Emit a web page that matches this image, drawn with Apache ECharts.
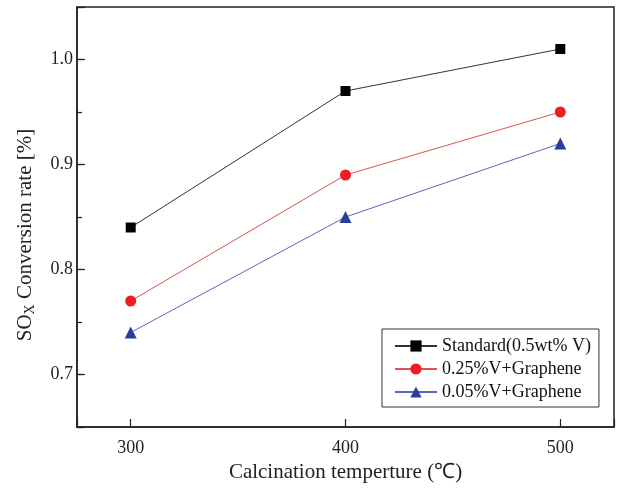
<!DOCTYPE html>
<html>
<head>
<meta charset="utf-8">
<script src="https://cdn.jsdelivr.net/npm/echarts@6/dist/echarts.min.js"></script>
<style>html,body{margin:0;padding:0;background:#fff}#c{width:617px;height:493px}</style>
</head>
<body>
<div id="c"></div>
<script>
const temperatures = [300, 400, 500];
const standardValues = [0.84, 0.97, 1.01];
const v025Values = [0.77, 0.89, 0.95];
const v005Values = [0.74, 0.85, 0.92];
const seriesNames = ['Standard(0.5wt% V)', '0.25%V+Graphene', '0.05%V+Graphene'];
const xTickLabels = ['300', '400', '500'];
const yTickLabels = ['0.7', '0.8', '0.9', '1.0'];

const FONT = '"Liberation Serif", "Times New Roman", serif';
const pair = (vals) => temperatures.map((t, i) => [t, vals[i]]);

const chart = echarts.init(document.getElementById('c'), null, {renderer: 'canvas'});
chart.setOption({
  animation: false,
  backgroundColor: '#fff',
  grid: {left: 77, right: 3, top: 7, bottom: 66, show: true, borderColor: '#222', borderWidth: 1.5, backgroundColor: 'transparent'},
  xAxis: {
    type: 'value', min: 275, max: 525, splitNumber: 3,
    axisLine: {show: true, lineStyle: {color: '#222', width: 1.5}},
    axisTick: {show: true, inside: true, length: 8, lineStyle: {color: '#222', width: 1.2}},
    splitLine: {show: false},
    axisLabel: {
      margin: 12, color: '#222', fontFamily: FONT, fontSize: 18,
      formatter: v => xTickLabels.includes(String(Math.round(v))) && Math.abs(v - Math.round(v)) < 1e-6 ? String(Math.round(v)) : ''
    },
    name: 'Calcination temperture (℃)', nameLocation: 'middle', nameGap: 33,
    nameTextStyle: {fontFamily: FONT, fontSize: 21, color: '#222'}
  },
  yAxis: [{
    type: 'value', min: 0.65, max: 1.05, interval: 0.05,
    axisLine: {show: true, lineStyle: {color: '#222', width: 1.5}},
    axisTick: {show: true, inside: true, length: 5, lineStyle: {color: '#222', width: 1.2}},
    splitLine: {show: false},
    axisLabel: {
      margin: 4, color: '#222', fontFamily: FONT, fontSize: 18,
      formatter: v => { const t = v.toFixed(1); return (Math.abs(v * 10 - Math.round(v * 10)) < 1e-6 && yTickLabels.includes(t)) ? t : ''; }
    },
    name: '{a|SO}{b|X}{a| Conversion rate [%]}', nameLocation: 'middle', nameGap: 40, nameRotate: 90,
    nameTextStyle: {
      padding: [0, 36, 0, 0],
      rich: {
        a: {fontFamily: FONT, fontSize: 21, color: '#222', lineHeight: 24},
        b: {fontFamily: FONT, fontSize: 14, color: '#222', verticalAlign: 'bottom', lineHeight: 22}
      }
    }
  }, {
    type: 'value', min: 0.65, max: 1.05, splitNumber: 4, position: 'left',
    axisLine: {show: false},
    axisTick: {show: true, inside: true, length: 8, lineStyle: {color: '#222', width: 1.2}},
    axisLabel: {show: false},
    splitLine: {show: false}
  }],
  legend: {
    orient: 'vertical', left: 382, top: 329,
    padding: [8, 8, 6, 12], itemGap: 5, itemWidth: 42, itemHeight: 14,
    borderColor: '#333', borderWidth: 1, backgroundColor: '#fff',
    textStyle: {fontFamily: FONT, fontSize: 18, color: '#111'},
    data: seriesNames
  },
  series: [
    {name: seriesNames[0], type: 'line', data: pair(standardValues), symbol: 'rect', symbolSize: 10,
     itemStyle: {color: '#000'}, lineStyle: {color: '#333', width: 1}},
    {name: seriesNames[1], type: 'line', data: pair(v025Values), symbol: 'circle', symbolSize: 11,
     itemStyle: {color: '#ee1c24'}, lineStyle: {color: '#d9534f', width: 1}},
    {name: seriesNames[2], type: 'line', data: pair(v005Values), symbol: 'triangle', symbolSize: 12,
     itemStyle: {color: '#2b3d9c'}, lineStyle: {color: '#5a66bb', width: 1}}
  ]
});
</script>
</body>
</html>
